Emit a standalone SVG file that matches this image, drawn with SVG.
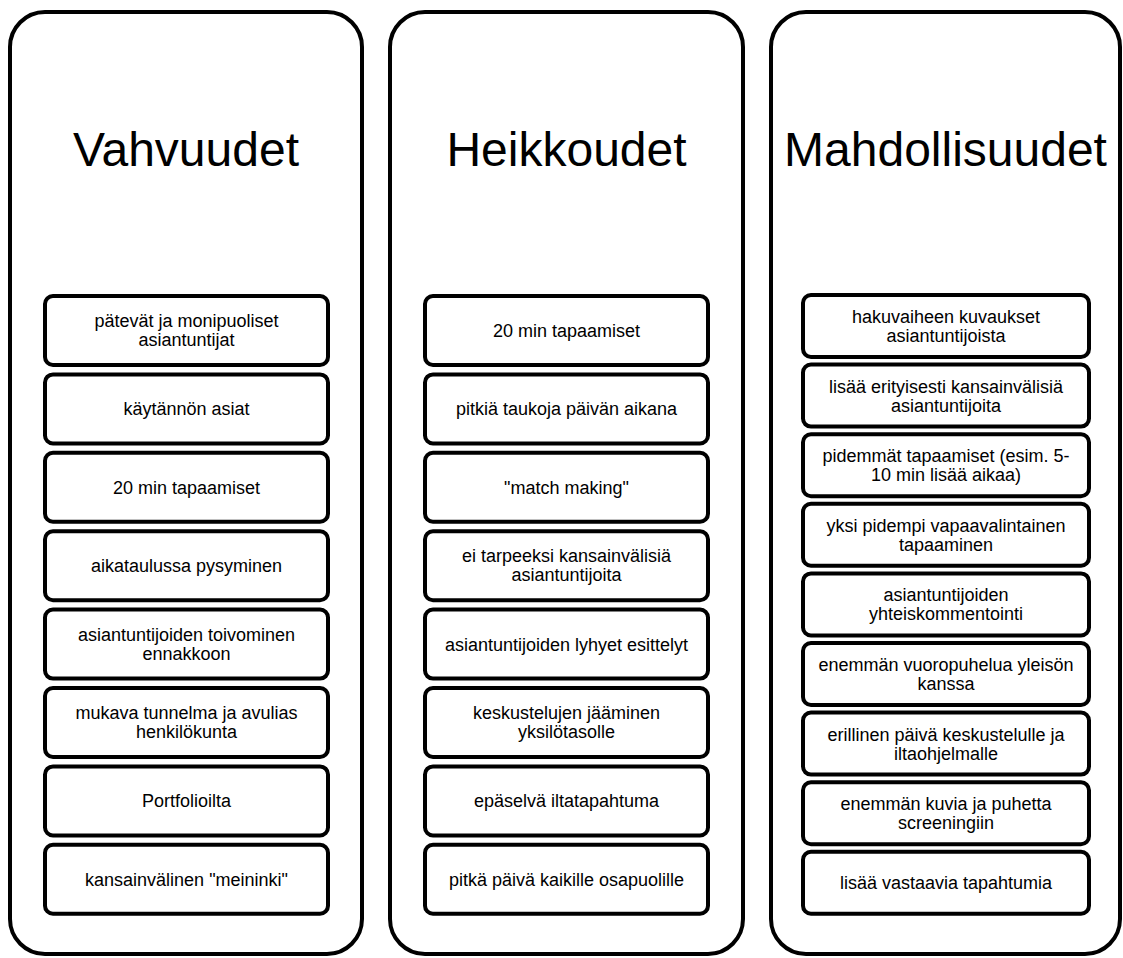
<svg xmlns="http://www.w3.org/2000/svg" width="1123" height="958" viewBox="0 0 1123 958">
<style>
.col{fill:#fff;stroke:#000;stroke-width:4}
.box{fill:#fff;stroke:#000;stroke-width:4}
.title{font-family:"Liberation Sans",Arial,sans-serif;font-size:48px;fill:#000;text-anchor:middle}
.t{font-family:"Liberation Sans",Arial,sans-serif;font-size:18px;fill:#000;text-anchor:middle}
</style>
<rect width="1123" height="958" fill="#fff"/>
<g id="col-vahvuudet">
<rect class="col" x="10" y="12" width="352" height="942" rx="35"/>
<text class="title" x="186" y="166">Vahvuudet</text>
</g>
<g id="col-heikkoudet">
<rect class="col" x="390" y="12" width="353" height="942" rx="35"/>
<text class="title" x="566.5" y="166">Heikkoudet</text>
</g>
<g id="col-mahdollisuudet">
<rect class="col" x="771" y="12" width="349" height="942" rx="35"/>
<text class="title" x="945.5" y="166">Mahdollisuudet</text>
</g>
<g id="connectors"></g>
<!-- Column 1 -->
<g id="v1"><rect class="box" x="45" y="296" width="283" height="69" rx="8"/><text class="t" x="186.5" y="327">pätevät ja monipuoliset</text><text class="t" x="186.5" y="346">asiantuntijat</text></g>
<g id="v2"><rect class="box" x="45" y="374.4" width="283" height="69" rx="8"/><text class="t" x="186.5" y="415">käytännön asiat</text></g>
<g id="v3"><rect class="box" x="45" y="452.8" width="283" height="69" rx="8"/><text class="t" x="186.5" y="493.5">20 min tapaamiset</text></g>
<g id="v4"><rect class="box" x="45" y="531.2" width="283" height="69" rx="8"/><text class="t" x="186.5" y="572">aikataulussa pysyminen</text></g>
<g id="v5"><rect class="box" x="45" y="609.6" width="283" height="69" rx="8"/><text class="t" x="186.5" y="640.5">asiantuntijoiden toivominen</text><text class="t" x="186.5" y="659.5">ennakkoon</text></g>
<g id="v6"><rect class="box" x="45" y="688" width="283" height="69" rx="8"/><text class="t" x="186.5" y="719">mukava tunnelma ja avulias</text><text class="t" x="186.5" y="738">henkilökunta</text></g>
<g id="v7"><rect class="box" x="45" y="766.4" width="283" height="69" rx="8"/><text class="t" x="186.5" y="807">Portfolioilta</text></g>
<g id="v8"><rect class="box" x="45" y="844.8" width="283" height="69" rx="8"/><text class="t" x="186.5" y="885.5">kansainvälinen "meininki"</text></g>
<!-- Column 2 -->
<g id="h1"><rect class="box" x="425" y="296" width="283" height="69" rx="8"/><text class="t" x="566.5" y="337">20 min tapaamiset</text></g>
<g id="h2"><rect class="box" x="425" y="374.4" width="283" height="69" rx="8"/><text class="t" x="566.5" y="415">pitkiä taukoja päivän aikana</text></g>
<g id="h3"><rect class="box" x="425" y="452.8" width="283" height="69" rx="8"/><text class="t" x="566.5" y="493.5">"match making"</text></g>
<g id="h4"><rect class="box" x="425" y="531.2" width="283" height="69" rx="8"/><text class="t" x="566.5" y="562">ei tarpeeksi kansainvälisiä</text><text class="t" x="566.5" y="581">asiantuntijoita</text></g>
<g id="h5"><rect class="box" x="425" y="609.6" width="283" height="69" rx="8"/><text class="t" x="566.5" y="650.5">asiantuntijoiden lyhyet esittelyt</text></g>
<g id="h6"><rect class="box" x="425" y="688" width="283" height="69" rx="8"/><text class="t" x="566.5" y="719">keskustelujen jääminen</text><text class="t" x="566.5" y="738">yksilötasolle</text></g>
<g id="h7"><rect class="box" x="425" y="766.4" width="283" height="69" rx="8"/><text class="t" x="566.5" y="807">epäselvä iltatapahtuma</text></g>
<g id="h8"><rect class="box" x="425" y="844.8" width="283" height="69" rx="8"/><text class="t" x="566.5" y="885.5">pitkä päivä kaikille osapuolille</text></g>
<!-- Column 3 -->
<g id="m1"><rect class="box" x="803" y="295" width="286" height="62" rx="8"/><text class="t" x="946" y="323">hakuvaiheen kuvaukset</text><text class="t" x="946" y="342">asiantuntijoista</text></g>
<g id="m2"><rect class="box" x="803" y="364.6" width="286" height="62" rx="8"/><text class="t" x="946" y="392.6">lisää erityisesti kansainvälisiä</text><text class="t" x="946" y="411.6">asiantuntijoita</text></g>
<g id="m3"><rect class="box" x="803" y="434.2" width="286" height="62" rx="8"/><text class="t" x="946" y="462.2">pidemmät tapaamiset (esim. 5-</text><text class="t" x="946" y="481.2">10 min lisää aikaa)</text></g>
<g id="m4"><rect class="box" x="803" y="503.8" width="286" height="62" rx="8"/><text class="t" x="946" y="531.8">yksi pidempi vapaavalintainen</text><text class="t" x="946" y="550.8">tapaaminen</text></g>
<g id="m5"><rect class="box" x="803" y="573.4" width="286" height="62" rx="8"/><text class="t" x="946" y="601.4">asiantuntijoiden</text><text class="t" x="946" y="620.4">yhteiskommentointi</text></g>
<g id="m6"><rect class="box" x="803" y="643" width="286" height="62" rx="8"/><text class="t" x="946" y="671">enemmän vuoropuhelua yleisön</text><text class="t" x="946" y="690">kanssa</text></g>
<g id="m7"><rect class="box" x="803" y="712.6" width="286" height="62" rx="8"/><text class="t" x="946" y="740.6">erillinen päivä keskustelulle ja</text><text class="t" x="946" y="759.6">iltaohjelmalle</text></g>
<g id="m8"><rect class="box" x="803" y="782.2" width="286" height="62" rx="8"/><text class="t" x="946" y="810.2">enemmän kuvia ja puhetta</text><text class="t" x="946" y="829.2">screeningiin</text></g>
<g id="m9"><rect class="box" x="803" y="851.8" width="286" height="62" rx="8"/><text class="t" x="946" y="889">lisää vastaavia tapahtumia</text></g>
</svg>
